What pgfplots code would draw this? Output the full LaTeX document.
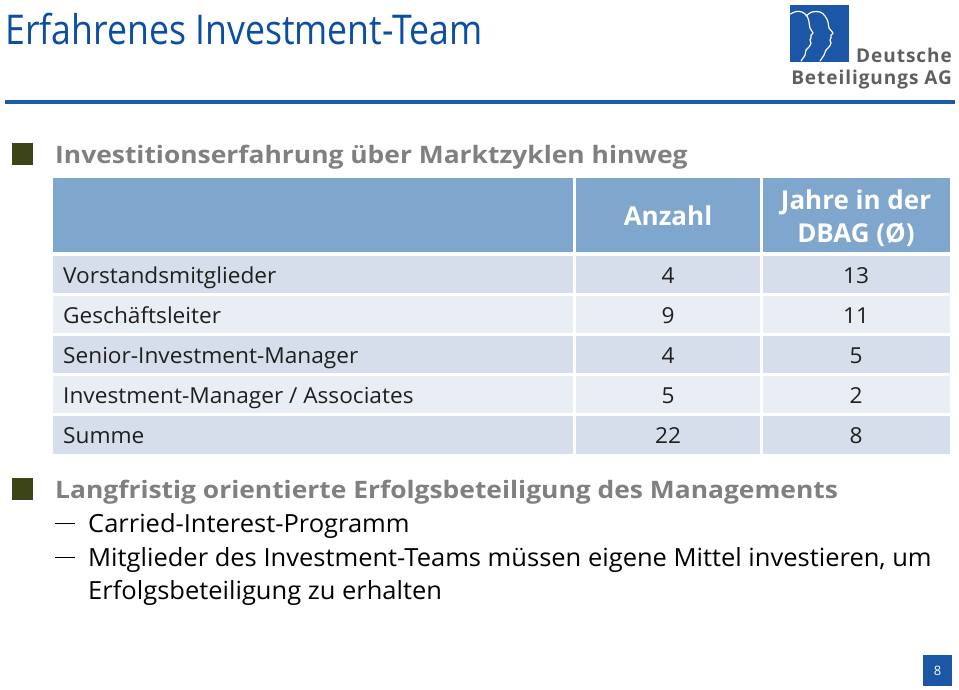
\documentclass[border=0pt]{standalone}
\usepackage{pgfplots}
\pgfplotsset{compat=1.18}
\usepackage{fontspec}
\setmainfont{Open Sans}
\newfontfamily\ftitle[FakeStretch=0.87]{Open Sans}
\newfontfamily\fhead[FakeStretch=1.1]{Open Sans}
\newfontfamily\fhdr[FakeStretch=1.0]{Open Sans}
\newfontfamily\frow[FakeStretch=1.03]{Open Sans}
\newfontfamily\fbody[FakeStretch=1.02]{Open Sans}
\newfontfamily\flogo[LetterSpace=5]{Open Sans}
\definecolor{titleblue}{RGB}{11,78,162}
\definecolor{rulecol}{RGB}{26,92,168}
\definecolor{headgray}{RGB}{128,128,128}
\definecolor{olive}{RGB}{61,68,24}
\definecolor{hdrblue}{RGB}{127,166,204}
\definecolor{rowdark}{RGB}{213,222,234}
\definecolor{rowlight}{RGB}{233,238,245}
\definecolor{logoblue}{RGB}{28,86,166}
\definecolor{logogray}{RGB}{95,95,95}
\begin{document}
\begin{tikzpicture}
\begin{axis}[
  width=959pt, height=689pt, scale only axis,
  xmin=0, xmax=959, ymin=0, ymax=689, y dir=reverse,
  hide axis, clip=false,
]
\path[fill=white] (axis cs:0,0) rectangle (axis cs:959,689);
% title and rule
\node[anchor=base west, text=titleblue, font=\ftitle\fontsize{41}{46}\selectfont, inner sep=0pt] at (axis cs:5,44) {Erfahrenes Investment-Team};
\fill[rulecol] (axis cs:5,100) rectangle (axis cs:955,104);
% logo
\fill[logoblue] (axis cs:790,5) rectangle (axis cs:849,62);
\draw[white, line width=1.2pt, line cap=round, line join=round] plot[smooth, tension=0.6] coordinates {(axis cs:790.5,14) (axis cs:796,11.5) (axis cs:802,12) (axis cs:807,16) (axis cs:809,22) (axis cs:810,28) (axis cs:813,33) (axis cs:811,35) (axis cs:811,38) (axis cs:810,40) (axis cs:811,43) (axis cs:809,47) (axis cs:806,50) (axis cs:805,55) (axis cs:801,61)};
\draw[white, line width=1.2pt, line cap=round, line join=round] plot[smooth, tension=0.6] coordinates {(axis cs:806,16) (axis cs:812,12) (axis cs:820,12) (axis cs:825,16) (axis cs:828,22) (axis cs:829,28) (axis cs:833,33) (axis cs:831,35) (axis cs:831,38) (axis cs:830,40) (axis cs:831,43) (axis cs:829,47) (axis cs:826,50) (axis cs:824,55) (axis cs:820,61)};
\node[anchor=base east, text=logogray, font=\flogo\bfseries\fontsize{19}{20}\selectfont, inner sep=0pt] at (axis cs:952,62) {Deutsche};
\node[anchor=base east, text=logogray, font=\flogo\bfseries\fontsize{19}{20}\selectfont, inner sep=0pt] at (axis cs:952,84) {Beteiligungs AG};
% first heading
\fill[olive] (axis cs:12,143) rectangle (axis cs:33,165);
\node[anchor=base west, text=headgray, font=\fhead\bfseries\fontsize{24}{28}\selectfont, inner sep=0pt] at (axis cs:55,163) {Investitionserfahrung über Marktzyklen hinweg};
% table background
\fill[hdrblue] (axis cs:53,178) rectangle (axis cs:573,252);
\fill[hdrblue] (axis cs:576,178) rectangle (axis cs:760,252);
\fill[hdrblue] (axis cs:763,178) rectangle (axis cs:950,252);
\fill[rowdark] (axis cs:53,256) rectangle (axis cs:573,293);
\fill[rowdark] (axis cs:576,256) rectangle (axis cs:760,293);
\fill[rowdark] (axis cs:763,256) rectangle (axis cs:950,293);
\fill[rowlight] (axis cs:53,296) rectangle (axis cs:573,333);
\fill[rowlight] (axis cs:576,296) rectangle (axis cs:760,333);
\fill[rowlight] (axis cs:763,296) rectangle (axis cs:950,333);
\fill[rowdark] (axis cs:53,336) rectangle (axis cs:573,373);
\fill[rowdark] (axis cs:576,336) rectangle (axis cs:760,373);
\fill[rowdark] (axis cs:763,336) rectangle (axis cs:950,373);
\fill[rowlight] (axis cs:53,376) rectangle (axis cs:573,413);
\fill[rowlight] (axis cs:576,376) rectangle (axis cs:760,413);
\fill[rowlight] (axis cs:763,376) rectangle (axis cs:950,413);
\fill[rowdark] (axis cs:53,416) rectangle (axis cs:573,454);
\fill[rowdark] (axis cs:576,416) rectangle (axis cs:760,454);
\fill[rowdark] (axis cs:763,416) rectangle (axis cs:950,454);
\node[anchor=base, text=white, font=\fhdr\bfseries\fontsize{26}{30}\selectfont, inner sep=0pt] at (axis cs:668,225) {Anzahl};
\node[anchor=base, text=white, font=\fhdr\bfseries\fontsize{26}{30}\selectfont, inner sep=0pt] at (axis cs:856,209) {Jahre in der};
\node[anchor=base, text=white, font=\fhdr\bfseries\fontsize{26}{30}\selectfont, inner sep=0pt] at (axis cs:856,242) {DBAG (Ø)};
% row labels
\addplot[draw=none, mark=none, nodes near coords, point meta=explicit symbolic,
  nodes near coords style={anchor=base west, inner sep=0pt, text=black!88, font=\frow\fontsize{22}{26}\selectfont}]
  table[meta=label, col sep=comma] {
x,y,label
63,283,Vorstandsmitglieder
63,323,Geschäftsleiter
63,363,Senior-Investment-Manager
63,403,Investment-Manager / Associates
63,443,Summe
};
% Anzahl
\addplot[draw=none, mark=none, nodes near coords, point meta=explicit,
  nodes near coords style={anchor=base, inner sep=0pt, text=black!88, font=\frow\fontsize{22}{26}\selectfont, /pgf/number format/assume math mode=true}]
  table[meta=v] {
x y v
668 283 4
668 323 9
668 363 4
668 403 5
668 443 22
};
% Jahre in der DBAG
\addplot[draw=none, mark=none, nodes near coords, point meta=explicit,
  nodes near coords style={anchor=base, inner sep=0pt, text=black!88, font=\frow\fontsize{22}{26}\selectfont, /pgf/number format/assume math mode=true}]
  table[meta=v] {
x y v
856 283 13
856 323 11
856 363 5
856 403 2
856 443 8
};
% second heading
\fill[olive] (axis cs:12,478) rectangle (axis cs:33,500);
\node[anchor=base west, text=headgray, font=\fhead\bfseries\fontsize{24}{28}\selectfont, inner sep=0pt] at (axis cs:55,498) {Langfristig orientierte Erfolgsbeteiligung des Managements};
\fill[black] (axis cs:55,522.5) rectangle (axis cs:75,524);
\node[anchor=base west, text=black, font=\fbody\fontsize{25}{30}\selectfont, inner sep=0pt] at (axis cs:88,532) {Carried-Interest-Programm};
\fill[black] (axis cs:55,556.5) rectangle (axis cs:75,558);
\node[anchor=base west, text=black, font=\fbody\fontsize{25}{30}\selectfont, inner sep=0pt] at (axis cs:88,566) {Mitglieder des Investment-Teams müssen eigene Mittel investieren, um};
\node[anchor=base west, text=black, font=\fbody\fontsize{25}{30}\selectfont, inner sep=0pt] at (axis cs:88,599) {Erfolgsbeteiligung zu erhalten};
% page number
\fill[logoblue] (axis cs:923,655) rectangle (axis cs:952,686);
\node[anchor=base, text=white, font=\fontsize{13}{15}\selectfont, inner sep=0pt] at (axis cs:937.5,675) {8};
\end{axis}
\end{tikzpicture}
\end{document}
